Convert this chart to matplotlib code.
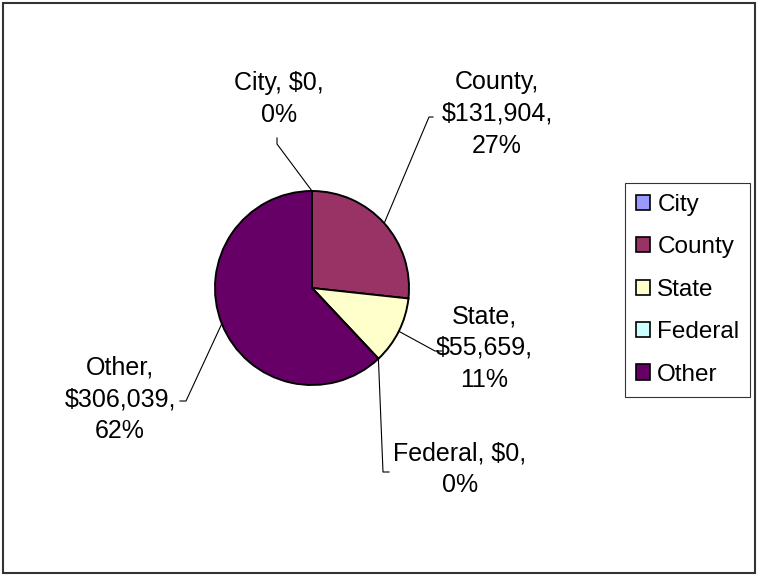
import numpy as np
import matplotlib.pyplot as plt
from matplotlib.patches import Patch, Rectangle

# data
categories = ["City", "County", "State", "Federal", "Other"]
amounts = [0, 131904, 55659, 0, 306039]
colors = ["#9999FF", "#993366", "#FFFFCC", "#CCFFFF", "#660066"]

W, H = 757, 577
plt.rcParams['font.family'] = ['Liberation Sans', 'DejaVu Sans']

fig = plt.figure(figsize=(W / 100, H / 100), dpi=100)
ax = fig.add_axes([0, 0, 1, 1])
ax.set_xlim(0, W)
ax.set_ylim(0, H)
ax.set_aspect('equal')
ax.axis('off')

# pie geometry in pixel space (y up)
cx, cy, r = 312, H - 288, 97
wedges, _ = ax.pie(amounts, colors=colors, startangle=90, counterclock=False,
                   center=(cx, cy), radius=r,
                   wedgeprops=dict(edgecolor='black', linewidth=1.4))
ax.set_xlim(0, W)
ax.set_ylim(0, H)

total = sum(amounts)
frac = np.cumsum([0] + amounts) / total
mid = (frac[:-1] + frac[1:]) / 2


def edge_point(f):
    a = np.deg2rad(90 - 360 * f)
    return cx + r * np.cos(a), cy + r * np.sin(a)


# label layout: text centre and leader path (pixel coords, y down)
layout = {
    "City": ((279, 99), [(277, 138), (277, 144)]),
    "County": ((497, 114), [(433, 117), (429, 117)]),
    "State": ((484, 348), [(442, 351), (435, 351)]),
    "Federal": ((460, 469), [(389, 472), (383, 472)]),
    "Other": ((120, 399), [(180, 401), (186, 401)]),
}

for i, name in enumerate(categories):
    pct = amounts[i] / total * 100
    txt = f"{name}, ${amounts[i]:,},\n{pct:.0f}%"
    if name in ("County", "State", "Other"):
        txt = f"{name},\n${amounts[i]:,},\n{pct:.0f}%"
    (tx, ty), path = layout[name]
    ax.text(tx, H - ty, txt, ha='center', va='center', fontsize=18,
            linespacing=1.42, color='black')
    px, py = edge_point(mid[i])
    xs = [p[0] for p in path] + [px]
    ys = [H - p[1] for p in path] + [py]
    ax.plot(xs, ys, color='black', linewidth=0.8)

handles = [Patch(facecolor=c, edgecolor='black', linewidth=1.2) for c in colors]
leg = ax.legend(handles, categories, loc='upper left',
                bbox_to_anchor=(625 / W, 1 - 183 / H), bbox_transform=fig.transFigure,
                fontsize=17.5, frameon=True, fancybox=False, borderpad=0.45,
                handlelength=0.58, handleheight=0.58, handletextpad=0.3,
                labelspacing=0.84, borderaxespad=0)
leg.get_frame().set_edgecolor('black')
leg.get_frame().set_linewidth(0.8)

# outer border
fig.patches.append(Rectangle((2.5 / W, 4 / H), 752.5 / W, 570 / H, transform=fig.transFigure,
                             fill=False, edgecolor='#333333', linewidth=1.5))

fig.savefig("out.png", dpi=100)
